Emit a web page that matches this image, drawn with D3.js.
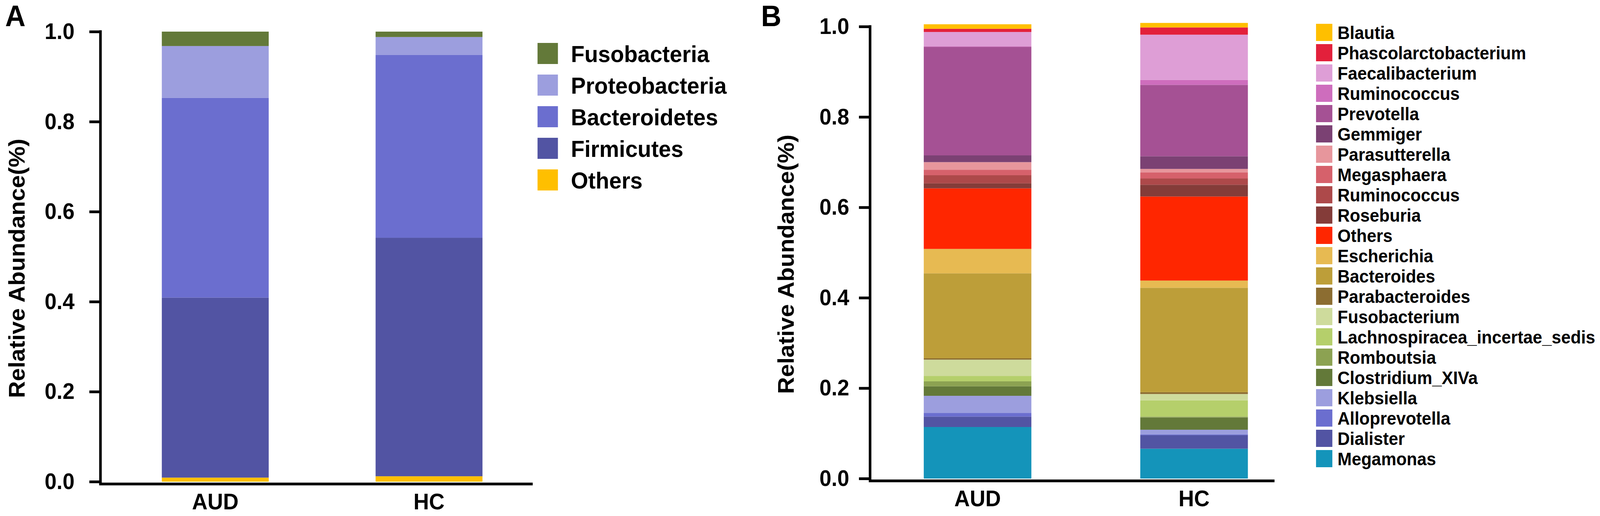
<!DOCTYPE html>
<meta charset="utf-8">
<style>
  html, body { margin: 0; padding: 0; background: #fff; width: 100%; height: 100%; overflow: hidden; }
  svg { display: block; width: 100%; height: 100%; }
  text { font-family: 'Liberation Sans', Arial, sans-serif; font-weight: bold; fill: #000; }
  .axis-line { stroke: #000; stroke-width: 7px; fill: none; }
</style>
<svg viewBox="0 0 4316 1322" preserveAspectRatio="none"></svg>
<script src="https://d3js.org/d3.v7.min.js"></script>
<script>

// groups on the x axis
var groups = ["AUD", "HC"];
var yTicks = [0, 0.2, 0.4, 0.6, 0.8, 1.0];

// panel A: phylum level, listed bottom of stack -> top
var phylumNames = ["Others", "Firmicutes", "Bacteroidetes", "Proteobacteria", "Fusobacteria"];
var phylumAUD = [0.009, 0.400, 0.444, 0.115, 0.032];
var phylumHC  = [0.012, 0.530, 0.406, 0.040, 0.012];
var phylumColors = ["#ffbf00", "#5254a3", "#6b6ecf", "#9c9ede", "#637939"];

// panel B: genus level, bottom of stack -> top
var genusNames = ["Megamonas", "Dialister", "Alloprevotella", "Klebsiella", "Clostridium_XIVa",
  "Romboutsia", "Lachnospiracea_incertae_sedis", "Fusobacterium", "Parabacteroides", "Bacteroides",
  "Escherichia", "Others", "Roseburia", "Ruminococcus", "Megasphaera", "Parasutterella",
  "Gemmiger", "Prevotella", "Ruminococcus", "Faecalibacterium", "Phascolarctobacterium", "Blautia"];
var genusAUD = [0.114, 0.023, 0.008, 0.038, 0.021, 0.011, 0.012, 0.036, 0.003, 0.188,
  0.054, 0.134, 0.011, 0.018, 0.012, 0.017, 0.015, 0.240, 0.001, 0.032, 0.007, 0.010];
var genusHC = [0.066, 0.030, 0.002, 0.010, 0.027, 0.002, 0.036, 0.014, 0.004, 0.231,
  0.016, 0.186, 0.026, 0.014, 0.013, 0.008, 0.028, 0.158, 0.011, 0.100, 0.016, 0.010];
var genusColors = ["#1494ba", "#5254a3", "#6b6ecf", "#9c9ede", "#637939",
  "#8ca252", "#b5cf6b", "#cedb9c", "#8c6d31", "#bd9e39",
  "#e7ba52", "#ff2600", "#843c39", "#ad494a", "#d6616b", "#e7969c",
  "#7b4173", "#a55194", "#ce6dbd", "#de9ed6", "#e3203b", "#ffbf00"];

var svg = d3.select("svg");

var panels = [
  { letter: "A", letterX: 14, names: phylumNames, values: [phylumAUD, phylumHC], colors: phylumColors,
    axisX: 271, axisEnd: 1437, yTop: 81, yBottom: 1234, xRange: [271, 1467], padIn: 0.5, padOut: 0.287,
    titleX: 66, tickPad: 40,
    legend: { x: 1450, y: 110, sw: 55, sh: 54, step: 81, tx: 1540, font: 60 } },
  { letter: "B", letterX: 2053, names: genusNames, values: [genusAUD, genusHC], colors: genusColors,
    axisX: 2347, axisEnd: 3438, yTop: 68, yBottom: 1226, xRange: [2347, 3511], padIn: 0.503, padOut: 0.248,
    titleX: 2141, tickPad: 26,
    legend: { x: 3550, y: 61, sw: 44, sh: 44, step: 52, tx: 3608, font: 46 } }
];

panels.forEach(function (p) {
  var g = svg.append("g");

  var x = d3.scaleBand().domain(groups).range(p.xRange)
    .paddingInner(p.padIn).paddingOuter(p.padOut);
  var y = d3.scaleLinear().domain([0, 1]).range([p.yBottom, p.yTop]);

  // rows per group, keyed by index because names repeat
  var keys = d3.range(p.names.length);
  var rows = groups.map(function (grp, gi) {
    var r = { group: grp };
    keys.forEach(function (k) { r[k] = p.values[gi][k]; });
    return r;
  });
  var series = d3.stack().keys(keys)(rows);

  g.selectAll("g.layer")
    .data(series)
    .join("g")
    .attr("class", "layer")
    .attr("fill", function (d) { return p.colors[d.key]; })
    .selectAll("rect")
    .data(function (d) { return d; })
    .join("rect")
    .attr("x", function (d) { return x(d.data.group); })
    .attr("width", x.bandwidth())
    .attr("y", function (d) { return y(d[1]); })
    .attr("height", function (d) { return y(d[0]) - y(d[1]); });

  // y axis
  var yAxis = g.append("g")
    .attr("transform", "translate(" + p.axisX + ",0)")
    .call(d3.axisLeft(y).tickValues(yTicks).tickFormat(d3.format(".1f")).tickSize(30).tickPadding(p.tickPad));
  yAxis.select(".domain").remove();
  yAxis.selectAll(".tick line").attr("stroke", "#000").attr("stroke-width", 7);
  yAxis.selectAll(".tick text").attr("font-size", 58).attr("fill", "#000");
  yAxis.append("line").attr("class", "axis-line")
    .attr("x1", 0).attr("x2", 0).attr("y1", y(1) - 3.5).attr("y2", y(0) + 6);

  // x axis
  g.append("line").attr("class", "axis-line")
    .attr("x1", p.axisX - 3.5).attr("x2", p.axisEnd)
    .attr("y1", y(0) + 6).attr("y2", y(0) + 6);
  g.selectAll("text.cat")
    .data(groups)
    .join("text")
    .attr("class", "cat")
    .attr("x", function (d) { return x(d) + x.bandwidth() / 2; })
    .attr("y", y(0) + 71)
    .attr("text-anchor", "middle")
    .attr("font-size", 58)
    .text(function (d) { return d; });

  // y title
  g.append("text")
    .attr("transform", "translate(" + p.titleX + "," + ((p.yTop + p.yBottom) / 2 + 30) + ") rotate(-90)")
    .attr("text-anchor", "middle")
    .attr("font-size", 60)
    .text("Relative Abundance(%)");

  // panel letter
  g.append("text")
    .attr("x", p.letterX).attr("y", 67)
    .attr("font-size", 76)
    .text(p.letter);

  // legend, top of stack first
  var L = p.legend;
  var order = keys.slice().reverse();
  var leg = g.selectAll("g.leg")
    .data(order)
    .join("g")
    .attr("class", "leg")
    .attr("transform", function (d, i) { return "translate(0," + (L.y + i * L.step) + ")"; });
  leg.append("rect")
    .attr("x", L.x).attr("width", L.sw).attr("height", L.sh)
    .attr("fill", function (d) { return p.colors[d]; });
  leg.append("text")
    .attr("x", L.tx).attr("y", L.sh / 2)
    .attr("dy", "0.36em")
    .attr("font-size", L.font)
    .text(function (d) { return p.names[d]; });
});

</script>
